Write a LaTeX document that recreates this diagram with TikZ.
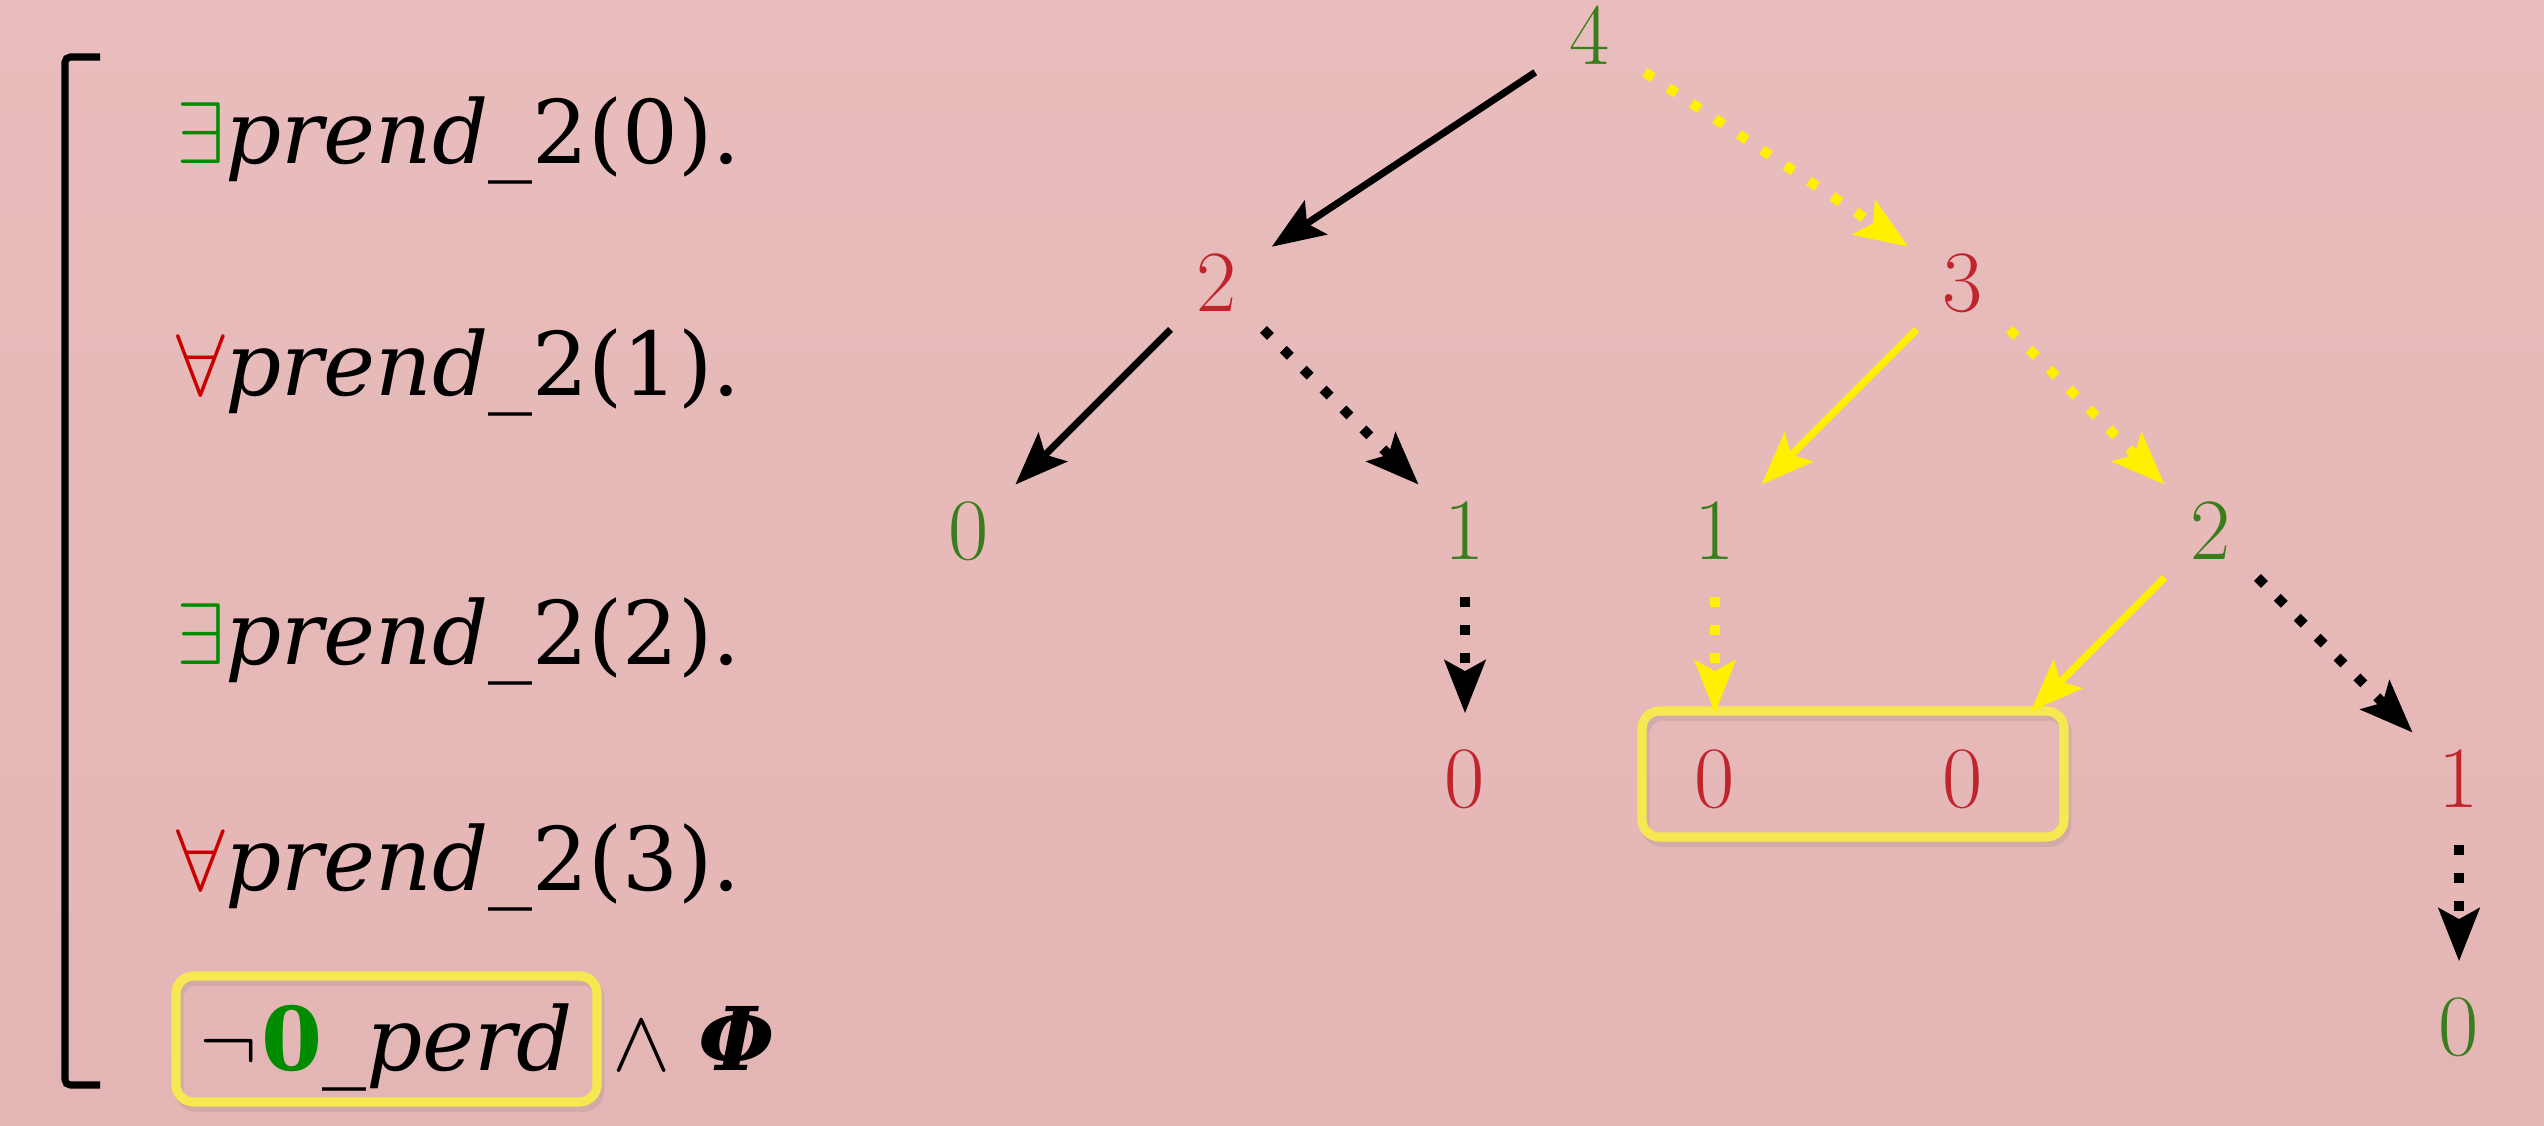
\documentclass[tikz,border=0pt]{standalone}
\usepackage[no-math]{fontspec}
\setmainfont{DejaVu Serif}
\usetikzlibrary{arrows.meta, positioning}

\definecolor{bgtop}{RGB}{233,189,189}
\definecolor{bgbot}{RGB}{228,181,181}
\definecolor{tgreen}{RGB}{58,125,28}
\definecolor{tred}{RGB}{192,36,44}
\definecolor{qgreen}{RGB}{0,140,0}
\definecolor{qred}{RGB}{200,0,0}
\definecolor{arrylw}{RGB}{255,240,0}
\definecolor{boxylw}{RGB}{246,232,80}

\newcommand{\exq}{{\color{qgreen}$\exists$}}
\newcommand{\allq}{{\color{qred}$\forall$}}

\begin{document}
\begin{tikzpicture}[
  node distance=2.48cm and 2.48cm, on grid,
  num/.style={circle, minimum size=1.3cm, inner sep=0pt,
              font=\fontsize{26}{30}\selectfont},
  formula/.style={anchor=base west, inner sep=0pt,
                  font=\fontsize{25}{30}\selectfont},
  hlbox/.style={rectangle, rounded corners=5pt, draw=boxylw, line width=2.6pt,
                preaction={draw=black!60, opacity=0.15,
                           transform canvas={xshift=0.8pt, yshift=-1.5pt}}},
  arr/.style={-{Stealth[length=15pt, width=11.5pt, inset=3pt]}, line width=2pt},
  darr/.style={arr, line width=2.8pt, dash pattern=on 2.8pt off 5.2pt},
  yarr/.style={arr, arrylw},
  ydarr/.style={darr, arrylw}
]
\useasboundingbox (0,0) rectangle (25.44,11.25);
\shade[top color=bgtop, bottom color=bgbot] (0,0) rectangle (25.44,11.25);

% --- quantifier prefix ---
\draw[line width=2pt, rounded corners=1.5pt] (1.00,10.68) -- (0.65,10.68) -- (0.65,0.40) -- (1.00,0.40);

\node[formula] (q0) at (1.76,9.61) {\exq\textit{prend}\_2(0).};
\node[formula] (q1) at (1.76,7.30) {\allq\textit{prend}\_2(1).};
\node[formula] (q2) at (1.76,4.61) {\exq\textit{prend}\_2(2).};
\node[formula] (q3) at (1.76,2.35) {\allq\textit{prend}\_2(3).};

\node[hlbox, minimum width=4.21cm, minimum height=1.26cm] (negbox) at (3.865,0.86) {};
\node[formula] (neg) at (1.99,0.55)
  {$\neg$\kern1pt{\color{qgreen}\bfseries 0}\_\textit{perd}};
\node[formula] (phi) at (6.12,0.55) {$\wedge$ \textbf{\textit{Φ}}};

% --- game tree ---
\node[num, text=tgreen] (top) at (15.90,10.89) {$4$};
\node[num, text=tred, below left=2.47cm and 3.73cm of top]  (lft) {$2$};
\node[num, text=tred, below right=2.47cm and 3.73cm of top] (rgt) {$3$};

\node[num, text=tgreen, below left=of lft]  (ll) {$0$};
\node[num, text=tgreen, below right=of lft] (lr) {$1$};
\node[num, text=tgreen, below left=of rgt]  (rl) {$1$};
\node[num, text=tgreen, below right=of rgt] (rr) {$2$};

\node[num, text=tred, below=of lr]       (lrz) {$0$};
\node[num, text=tred, below=of rl]       (rlz) {$0$};
\node[num, text=tred, below left=of rr]  (rrz) {$0$};
\node[num, text=tred, below right=of rr] (rro) {$1$};
\node[num, text=tgreen, below=of rro]    (rroz) {$0$};

\node[hlbox, minimum width=4.22cm, minimum height=1.26cm] (zbox) at (18.53,3.51) {};

\draw[arr]   (top) -- (lft);
\draw[ydarr] (top) -- (rgt);
\draw[arr]   (lft) -- (ll);
\draw[darr]  (lft) -- (lr);
\draw[yarr]  (rgt) -- (rl);
\draw[ydarr] (rgt) -- (rr);

\draw[darr]  (lr) -- (lrz);
\draw[ydarr] (rl) -- (rlz);
\draw[yarr, shorten >=0.3cm] (rr) -- (rrz);
\draw[darr]  (rr) -- (rro);
\draw[darr]  (rro) -- (rroz);

\end{tikzpicture}
\end{document}
